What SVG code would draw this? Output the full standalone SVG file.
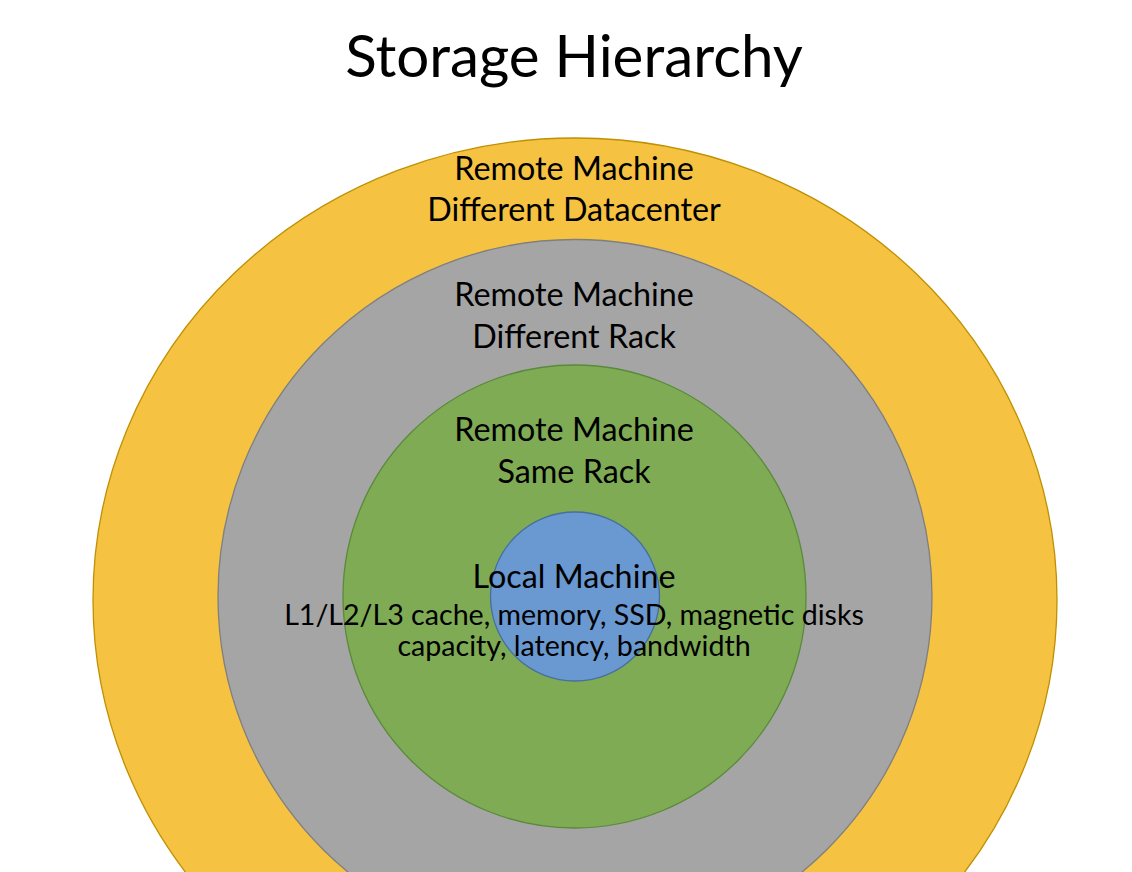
<svg xmlns="http://www.w3.org/2000/svg" width="1132" height="872" viewBox="0 0 1132 872">
<style>
text{font-family:Lato,"Noto Sans",sans-serif;fill:#000;text-anchor:middle}
.t{font-size:58.3px}
.l{font-size:32.3px}
.s{font-size:28.6px}
.ring{stroke-width:1.3}
</style>
<rect width="1132" height="872" fill="#fff"/>
<g id="title"><text class="t" x="574" y="77">Storage Hierarchy</text></g>
<g id="datacenter">
<ellipse class="ring" cx="575" cy="600" rx="482" ry="462" fill="#F5C242" stroke="#BF9000"/>
<text class="l" x="574" y="180">Remote Machine</text>
<text class="l" x="574" y="221">Different Datacenter</text>
</g>
<g id="rack">
<circle class="ring" cx="575" cy="596.5" r="357" fill="#A5A5A5" stroke="#7F7F7F"/>
<text class="l" x="574" y="306">Remote Machine</text>
<text class="l" x="574" y="348">Different Rack</text>
</g>
<g id="samerack">
<circle class="ring" cx="574.5" cy="596.5" r="231.5" fill="#7FAB55" stroke="#5A8A3A"/>
<text class="l" x="574" y="441">Remote Machine</text>
<text class="l" x="574" y="483">Same Rack</text>
</g>
<g id="local">
<circle class="ring" cx="575" cy="596.5" r="84.5" fill="#6A98D0" stroke="#46709E"/>
<text class="l" x="574" y="588">Local Machine</text>
<text class="s" x="574" y="625">L1/L2/L3 cache, memory, SSD, magnetic disks</text>
<text class="s" x="574" y="656">capacity, latency, bandwidth</text>
</g>
<g id="connectors"/>
</svg>
